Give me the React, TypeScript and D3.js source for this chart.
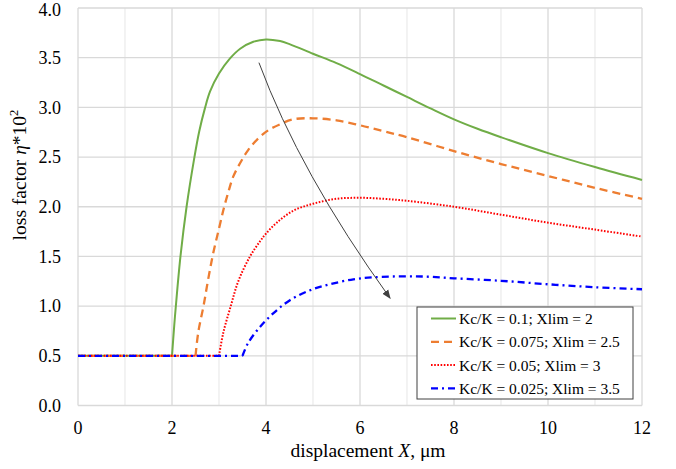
import React from "react";
import * as d3 from "d3";

const W = 676;
const H = 469;

const xTicks = [0, 2, 4, 6, 8, 10, 12];
const xMinor = [1, 3, 5, 7, 9, 11];
const yTicks = [0, 0.5, 1, 1.5, 2, 2.5, 3, 3.5, 4];

const baseLevel = 0.5;

const greenX = [2, 2.05, 2.08, 2.18, 2.31, 2.47, 2.58, 2.7, 2.81, 3.0, 3.23, 3.45, 3.73, 4.0, 4.3, 4.5, 5, 5.5, 6, 6.5, 7, 7.5, 8, 8.5, 9, 10, 11, 12];
const greenV = [0.5, 0.82, 0.99, 1.5, 2.0, 2.48, 2.76, 2.99, 3.16, 3.34, 3.49, 3.59, 3.66, 3.684, 3.667, 3.637, 3.54, 3.445, 3.335, 3.22, 3.105, 2.99, 2.88, 2.785, 2.70, 2.54, 2.40, 2.27];

const orangeX = [2.5, 2.56, 2.67, 2.77, 2.88, 3.0, 3.1, 3.2, 3.3, 3.45, 3.62, 3.84, 4.05, 4.3, 4.58, 5.0, 5.5, 6.0, 6.5, 7, 8, 9, 10, 11, 12];
const orangeV = [0.5, 0.74, 1.0, 1.27, 1.54, 1.78, 1.98, 2.15, 2.3, 2.44, 2.57, 2.69, 2.77, 2.83, 2.88, 2.89, 2.87, 2.82, 2.76, 2.70, 2.56, 2.43, 2.31, 2.19, 2.08];

const redX = [3, 3.09, 3.25, 3.41, 3.66, 3.87, 4.0, 4.23, 4.58, 5.0, 5.5, 6, 6.5, 7, 8, 9, 10, 11, 12];
const redV = [0.5, 0.73, 1.0, 1.25, 1.5, 1.65, 1.73, 1.84, 1.96, 2.03, 2.08, 2.09, 2.08, 2.06, 2.0, 1.92, 1.84, 1.77, 1.70];

const blueX = [3.5, 3.62, 3.87, 4.16, 4.51, 4.94, 5.36, 5.86, 6.28, 7, 7.5, 8, 9, 10, 11, 12];
const blueV = [0.5, 0.63, 0.79, 0.93, 1.06, 1.16, 1.22, 1.27, 1.29, 1.30, 1.295, 1.28, 1.255, 1.22, 1.19, 1.17];

const seriesNames = [
  "Kc/K = 0.1; Xlim = 2",
  "Kc/K = 0.075; Xlim = 2.5",
  "Kc/K = 0.05; Xlim = 3",
  "Kc/K = 0.025; Xlim = 3.5",
];

// annotation arrow in data coordinates: start, control, end
const arrowPts = [
  [3.85, 3.45],
  [4.72, 2.34],
  [6.64, 1.08],
];

const styles = [
  { color: "#70ad47", width: 2, dash: "none" },
  { color: "#ed7d31", width: 2.3, dash: "8,5" },
  { color: "#ff0000", width: 2, dash: "1.6,1.6" },
  { color: "#0000ff", width: 2.3, dash: "7,4,2,4" },
];

const FONT = "'Liberation Serif', 'Times New Roman', Times, serif";

export default function App() {
  const left = 78, right = 642, top = 8, bottom = 405.5;
  const x = d3.scaleLinear().domain([0, 12]).range([left, right]);
  const y = d3.scaleLinear().domain([0, 4]).range([bottom, top]);

  const series = [
    { xs: greenX, vs: greenV },
    { xs: orangeX, vs: orangeV },
    { xs: redX, vs: redV },
    { xs: blueX, vs: blueV },
  ];

  const curve = d3
    .line<[number, number]>()
    .x((d) => x(d[0]))
    .y((d) => y(d[1]))
    .curve(d3.curveCatmullRom.alpha(0.5));
  const flat = d3
    .line<[number, number]>()
    .x((d) => x(d[0]))
    .y((d) => y(d[1]));

  const [a0, a1, a2] = arrowPts;
  const arrowPath = `M${x(a0[0])},${y(a0[1])} Q${x(a1[0])},${y(a1[1])} ${x(a2[0])},${y(a2[1])}`;

  const legendX = 417, legendY = 307, legendW = 216, legendH = 92;
  const rowY = (i: number) => legendY + 11.5 + i * 23.3;

  return (
    <svg
      width={W}
      height={H}
      style={{ position: "absolute", left: 0, top: 0, background: "#fff", fontFamily: FONT }}
    >
      <defs>
        <marker id="ah" viewBox="0 0 10 10" refX="9" refY="5" markerWidth="9" markerHeight="9" orient="auto" markerUnits="userSpaceOnUse">
          <path d="M0,1 L10,5 L0,9 z" fill="#404040" />
        </marker>
      </defs>
      <rect x={0} y={0} width={W} height={H} fill="#fff" />
      {/* grid */}
      {xMinor.map((t) => (
        <line key={"xm" + t} x1={x(t)} x2={x(t)} y1={y(0)} y2={y(4)} stroke="#ececec" strokeWidth={1.3} />
      ))}
      {xTicks.map((t) => (
        <line key={"xg" + t} x1={x(t)} x2={x(t)} y1={y(0)} y2={y(4)} stroke="#d9d9d9" strokeWidth={1.3} />
      ))}
      {yTicks.map((t) => (
        <line key={"yg" + t} x1={x(0)} x2={x(12)} y1={y(t)} y2={y(t)} stroke="#d9d9d9" strokeWidth={1.3} />
      ))}

      {/* series */}
      {series.map((s, i) => {
        const pts = s.xs.map((xx, k) => [xx, s.vs[k]] as [number, number]);
        const flatPts: [number, number][] = [
          [0, baseLevel],
          [s.xs[0], baseLevel],
        ];
        const st = styles[i];
        return (
          <g key={i} fill="none" stroke={st.color} strokeWidth={st.width} strokeDasharray={st.dash === "none" ? undefined : st.dash}>
            <path d={flat(flatPts) || ""} />
            <path d={curve(pts) || ""} />
          </g>
        );
      })}

      {/* arrow */}
      <path d={arrowPath} fill="none" stroke="#404040" strokeWidth={1} markerEnd="url(#ah)" />

      {/* y tick labels */}
      {yTicks.map((t) => (
        <text key={"yl" + t} x={61} y={Math.max(y(t), 10)} dy="0.35em" textAnchor="end" fontSize={18} fill="#000" fontFamily={FONT}>
          {t.toFixed(1)}
        </text>
      ))}
      {/* x tick labels */}
      {xTicks.map((t) => (
        <text key={"xl" + t} x={x(t)} y={434} textAnchor="middle" fontSize={18} fill="#000" fontFamily={FONT}>
          {t}
        </text>
      ))}

      {/* axis titles */}
      <text x={368} y={457} textAnchor="middle" fontSize={19.5} fill="#000" fontFamily={FONT}>
        displacement <tspan fontStyle="italic">X</tspan>, μm
      </text>
      <text transform="translate(26,175) rotate(-90)" textAnchor="middle" fontSize={19.5} fill="#000" fontFamily={FONT}>
        loss factor <tspan fontStyle="italic">η</tspan>*10
        <tspan fontSize={12.5} dy="-8">2</tspan>
      </text>

      {/* legend */}
      <rect x={legendX} y={legendY} width={legendW} height={legendH} fill="#fff" stroke="#404040" strokeWidth={1} />
      {seriesNames.map((name, i) => {
        const st = styles[i];
        const yy = rowY(i);
        return (
          <g key={name}>
            <line x1={431} x2={456} y1={yy} y2={yy} stroke={st.color} strokeWidth={st.width} strokeDasharray={st.dash === "none" ? undefined : st.dash} />
            <text x={459} y={yy} dy="0.35em" fontSize={15.5} fill="#000" fontFamily={FONT}>
              {name}
            </text>
          </g>
        );
      })}
    </svg>
  );
}
